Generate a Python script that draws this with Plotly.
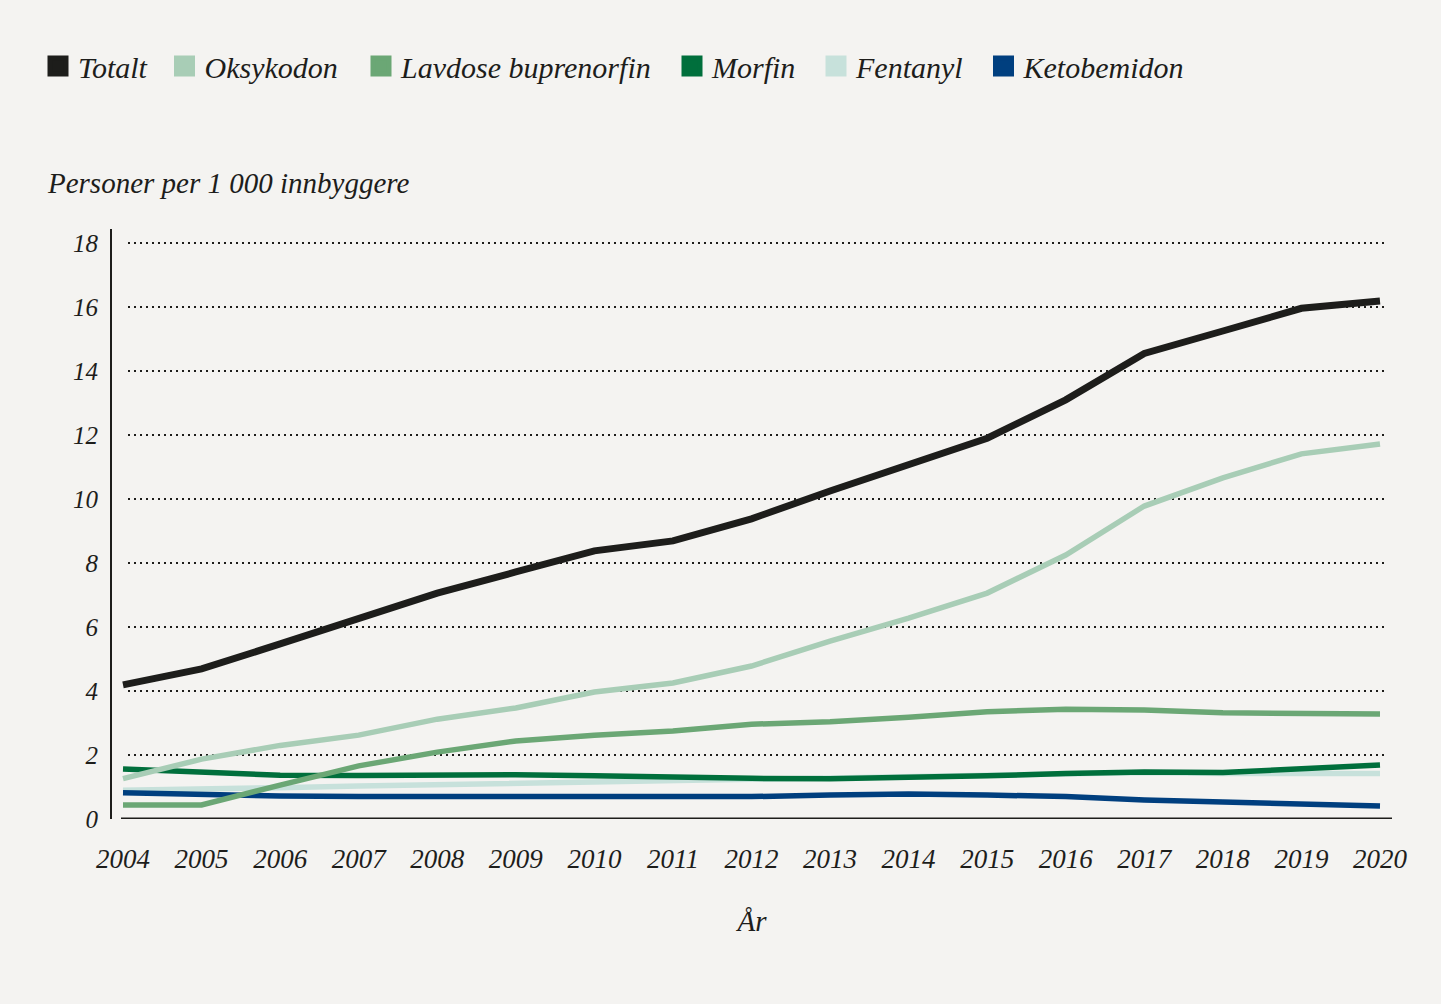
import plotly.graph_objects as go

years = list(range(2004, 2021))
totalt = [4.19, 4.69, 5.47, 6.25, 7.06, 7.72, 8.38, 8.69, 9.38, 10.25, 11.06, 11.9, 13.1, 14.55, 15.25, 15.96, 16.19]
oksykodon = [1.26, 1.87, 2.3, 2.62, 3.12, 3.47, 3.97, 4.25, 4.78, 5.56, 6.28, 7.06, 8.25, 9.78, 10.66, 11.41, 11.72]
lavdose = [0.44, 0.44, 1.06, 1.66, 2.09, 2.44, 2.62, 2.75, 2.96, 3.04, 3.18, 3.35, 3.43, 3.41, 3.32, 3.28, 3.28]
morfin = [1.56, 1.47, 1.37, 1.36, 1.38, 1.38, 1.35, 1.3, 1.27, 1.26, 1.29, 1.35, 1.42, 1.47, 1.45, 1.55, 1.69]
fentanyl = [0.9, 0.92, 0.98, 1.03, 1.07, 1.1, 1.15, 1.2, 1.24, 1.3, 1.34, 1.38, 1.42, 1.45, 1.42, 1.42, 1.42]
ketobemidon = [0.82, 0.75, 0.72, 0.7, 0.7, 0.7, 0.72, 0.7, 0.7, 0.75, 0.78, 0.75, 0.7, 0.59, 0.53, 0.47, 0.41]

series_names = ["Totalt", "Oksykodon", "Lavdose buprenorfin", "Morfin", "Fentanyl", "Ketobemidon"]
series_values = [totalt, oksykodon, lavdose, morfin, fentanyl, ketobemidon]
colors = ["#1d1d1b", "#a8cdb6", "#6ba775", "#006f3c", "#c7e1db", "#003f7f"]
widths = [7, 5.5, 5.5, 5.5, 5.5, 5.5]

y_ticks = [0, 2, 4, 6, 8, 10, 12, 14, 16, 18]

FONT = "Liberation Serif"
BG = "#f4f3f1"
INK = "#1d1d1b"

# legend item left positions (pixels) in the page
legend_x_px = [38, 164.5, 361, 672, 816, 983.5]

fig = go.Figure()

order = [4, 3, 5, 2, 1, 0]
for i in order:
    fig.add_trace(go.Scatter(
        x=years, y=series_values[i], mode="lines", name=series_names[i],
        line=dict(color=colors[i], width=widths[i]), showlegend=False,
        hoverinfo="x+y+name"))

legend_layouts = {}
for i, nm in enumerate(series_names):
    key = "legend" if i == 0 else "legend%d" % (i + 1)
    fig.add_trace(go.Scatter(
        x=[None], y=[None], mode="markers", name=nm, legend=key,
        marker=dict(symbol="square", size=16, color=colors[i], line=dict(width=5, color=colors[i])),
        showlegend=True))
    legend_layouts[key] = dict(
        orientation="h", x=legend_x_px[i] / 1441, xanchor="left",
        y=(1004 - 66) / 1004, yanchor="middle", xref="container", yref="container",
        font=dict(family=FONT, size=30, style="italic", color=INK),
        itemsizing="trace", bgcolor="rgba(0,0,0,0)", borderwidth=0)

for t in y_ticks[1:]:
    fig.add_shape(type="line", xref="paper", yref="y",
                  x0=(128 - 112) / 1280, x1=(1384 - 112) / 1280, y0=t, y1=t,
                  line=dict(color=INK, width=2, dash="2px,4px"), layer="below")

fig.add_shape(type="line", xref="paper", yref="y",
              x0=(121 - 112) / 1280, x1=1, y0=0, y1=0,
              line=dict(color=INK, width=3))

fig.update_layout(
    width=1441, height=1004,
    paper_bgcolor=BG, plot_bgcolor=BG,
    margin=dict(l=112, r=49, t=229, b=185),
    font=dict(family=FONT, size=27, color=INK),
    showlegend=True,
    **legend_layouts,
)

fig.update_xaxes(
    range=[2004 - 11 / 78.56, 2020 + 12 / 78.56],
    tickmode="array", tickvals=years, ticktext=[str(y) for y in years],
    showgrid=False, zeroline=False, showline=False,
    tickfont=dict(family=FONT, size=27, style="italic", color=INK),
    ticks="", ticklabelstandoff=21,
    title=dict(text="År", font=dict(family=FONT, size=29, style="italic", color=INK), standoff=37),
)
fig.update_yaxes(
    range=[0, (819 - 229) / 32],
    tickmode="array", tickvals=y_ticks, ticktext=[str(t) for t in y_ticks],
    showgrid=False, zeroline=False,
    showline=True, linecolor=INK, linewidth=2,
    tickfont=dict(family=FONT, size=25, style="italic", color=INK),
    ticks="", ticklabelstandoff=7,
)

fig.add_annotation(text="Personer per 1 000 innbyggere", xref="paper", yref="paper",
                   x=(45 - 112) / 1280, xanchor="left", y=(819 - 183) / 590, yanchor="middle",
                   showarrow=False, font=dict(family=FONT, size=29, style="italic", color=INK))

fig.write_html(
    "out.html",
    config={"displayModeBar": False},
    post_script="document.body.style.margin='0';document.body.style.background='%s';" % BG,
)
